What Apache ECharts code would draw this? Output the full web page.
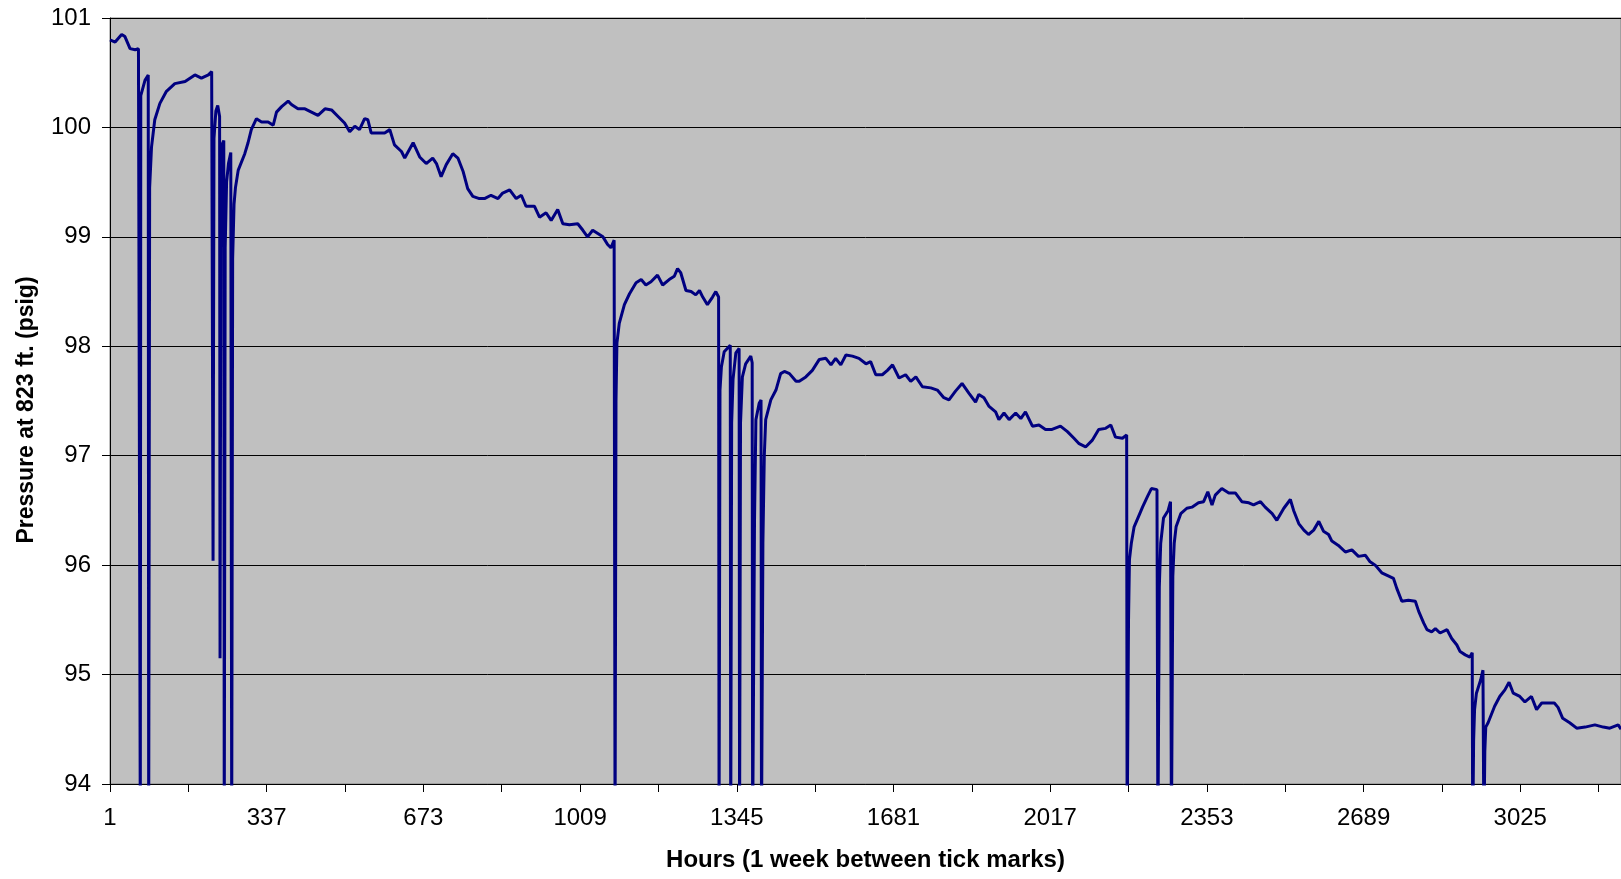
<!DOCTYPE html>
<html>
<head>
<meta charset="utf-8">
<title>Pressure at 823 ft.</title>
<script src="https://cdn.jsdelivr.net/npm/echarts@6.0.0/dist/echarts.min.js"></script>
<style>
  html, body { margin: 0; padding: 0; background: #fff; }
  #chart { width: 1621px; height: 879px; }
</style>
</head>
<body>
<div id="chart"></div>
<script>
// hours since start (x) and pressure in psig (y)
var hours = [
  1, 12, 26, 33, 44, 55, 62, 65, 66, 67, 76, 83, 84, 86, 90, 97, 108, 122, 140, 162,
  183, 197, 212, 219, 221, 222, 224, 228, 232, 236, 237, 239, 242, 245, 246, 248, 251, 255, 260, 262,
  264, 267, 270, 276, 290, 297, 304, 315, 326, 340, 351, 358, 369, 383, 390, 404, 419, 433, 447, 462,
  476, 490, 504, 515, 526, 536, 547, 554, 561, 572, 590, 601, 611, 626, 633, 651, 665, 679, 693, 701,
  711, 722, 736, 747, 758, 768, 779, 793, 804, 818, 833, 843, 858, 872, 883, 893, 911, 922, 936, 947,
  961, 972, 986, 1004, 1015, 1025, 1036, 1047, 1058, 1068, 1075, 1082, 1084, 1086, 1088, 1093, 1104, 1115, 1129, 1140,
  1150, 1161, 1175, 1186, 1200, 1211, 1218, 1225, 1236, 1247, 1257, 1265, 1272, 1282, 1293, 1300, 1306, 1307, 1309, 1312,
  1318, 1331, 1332, 1334, 1337, 1343, 1350, 1351, 1353, 1357, 1364, 1375, 1378, 1379, 1383, 1386, 1393, 1397, 1398, 1401,
  1404, 1407, 1418, 1429, 1439, 1447, 1458, 1472, 1479, 1493, 1507, 1522, 1536, 1547, 1557, 1568, 1579, 1593, 1607, 1622,
  1632, 1643, 1657, 1668, 1679, 1693, 1707, 1718, 1729, 1743, 1761, 1775, 1789, 1800, 1814, 1828, 1843, 1857, 1864, 1875,
  1886, 1900, 1907, 1918, 1929, 1943, 1954, 1964, 1979, 1993, 2007, 2021, 2039, 2054, 2068, 2079, 2093, 2107, 2121, 2136,
  2147, 2157, 2172, 2181, 2182, 2185, 2187, 2191, 2197, 2208, 2215, 2226, 2234, 2246, 2248, 2251, 2254, 2260, 2270, 2275,
  2277, 2280, 2283, 2287, 2297, 2310, 2321, 2335, 2346, 2355, 2364, 2371, 2385, 2400, 2414, 2428, 2443, 2453, 2468, 2478,
  2493, 2503, 2518, 2532, 2539, 2550, 2561, 2571, 2582, 2593, 2603, 2614, 2621, 2635, 2650, 2664, 2678, 2693, 2703, 2714,
  2728, 2743, 2753, 2760, 2771, 2785, 2800, 2807, 2818, 2825, 2835, 2843, 2853, 2868, 2878, 2889, 2896, 2907, 2917, 2922,
  2923, 2925, 2927, 2931, 2940, 2945, 2947, 2949, 2951, 2956, 2970, 2981, 2992, 3001, 3010, 3024, 3035, 3049, 3060, 3071,
  3085, 3098, 3106, 3116, 3131, 3146, 3164, 3185, 3203, 3217, 3235, 3241
];
var pressure = [
  100.80, 100.78, 100.85, 100.83, 100.72, 100.71, 100.72, 100.71, 93.5, 100.29, 100.43, 100.48, 93.5, 99.45, 99.82, 100.07, 100.22, 100.33, 100.40, 100.42,
  100.48, 100.45, 100.48, 100.51, 100.50, 96.04, 99.90, 100.15, 100.20, 100.10, 95.15, 99.70, 99.85, 99.88, 93.5, 98.90, 99.50, 99.67, 99.77, 93.5,
  98.80, 99.30, 99.45, 99.61, 99.76, 99.86, 99.98, 100.08, 100.05, 100.05, 100.02, 100.14, 100.19, 100.24, 100.21, 100.17, 100.17, 100.14, 100.11, 100.17,
  100.16, 100.10, 100.04, 99.96, 100.01, 99.98, 100.08, 100.07, 99.95, 99.95, 99.95, 99.98, 99.84, 99.78, 99.72, 99.86, 99.73, 99.67, 99.72, 99.67,
  99.55, 99.66, 99.76, 99.72, 99.60, 99.44, 99.37, 99.35, 99.35, 99.38, 99.35, 99.40, 99.43, 99.35, 99.38, 99.28, 99.28, 99.18, 99.22, 99.15,
  99.25, 99.12, 99.11, 99.12, 99.06, 99.00, 99.06, 99.03, 99.00, 98.93, 98.90, 98.97, 93.5, 97.50, 98.03, 98.21, 98.38, 98.48, 98.58, 98.61,
  98.56, 98.59, 98.65, 98.56, 98.61, 98.64, 98.71, 98.67, 98.51, 98.50, 98.47, 98.51, 98.45, 98.38, 98.45, 98.50, 98.45, 93.5, 97.60, 97.81,
  97.95, 98.01, 93.5, 97.30, 97.70, 97.94, 97.98, 93.5, 97.30, 97.72, 97.84, 97.91, 97.85, 93.5, 96.40, 97.33, 97.48, 97.51, 93.5, 96.20,
  97.00, 97.33, 97.51, 97.60, 97.75, 97.77, 97.75, 97.68, 97.68, 97.72, 97.78, 97.88, 97.89, 97.83, 97.89, 97.83, 97.92, 97.91, 97.89, 97.84,
  97.86, 97.74, 97.74, 97.78, 97.83, 97.71, 97.74, 97.68, 97.72, 97.63, 97.62, 97.60, 97.53, 97.51, 97.59, 97.66, 97.57, 97.49, 97.56, 97.53,
  97.45, 97.40, 97.33, 97.39, 97.33, 97.39, 97.34, 97.40, 97.27, 97.28, 97.24, 97.24, 97.27, 97.22, 97.16, 97.11, 97.08, 97.14, 97.24, 97.25,
  97.28, 97.17, 97.16, 97.19, 93.5, 95.50, 96.05, 96.20, 96.35, 96.46, 96.53, 96.63, 96.70, 96.69, 93.5, 95.80, 96.20, 96.43, 96.50, 96.58,
  93.5, 95.90, 96.20, 96.35, 96.47, 96.52, 96.53, 96.57, 96.58, 96.67, 96.55, 96.64, 96.70, 96.66, 96.66, 96.58, 96.57, 96.55, 96.58, 96.53,
  96.47, 96.41, 96.52, 96.60, 96.50, 96.38, 96.32, 96.28, 96.32, 96.40, 96.31, 96.28, 96.22, 96.18, 96.12, 96.14, 96.08, 96.09, 96.03, 96.00,
  95.93, 95.90, 95.88, 95.79, 95.67, 95.68, 95.67, 95.58, 95.47, 95.41, 95.39, 95.42, 95.38, 95.41, 95.33, 95.27, 95.21, 95.18, 95.16, 95.20,
  93.5, 94.40, 94.68, 94.83, 94.95, 95.04, 93.5, 94.30, 94.52, 94.56, 94.71, 94.80, 94.86, 94.93, 94.83, 94.80, 94.75, 94.80, 94.68, 94.74,
  94.74, 94.74, 94.70, 94.60, 94.56, 94.51, 94.52, 94.54, 94.52, 94.51, 94.54, 94.50
];
// one tick per week, a label every second week
var tickHours = [1, 169, 337, 505, 673, 841, 1009, 1177, 1345, 1513, 1681, 1849, 2017, 2185, 2353, 2521, 2689, 2857, 3025, 3193];
var labelHours = [1, 337, 673, 1009, 1345, 1681, 2017, 2353, 2689, 3025];

var seriesData = hours.map(function (h, i) { return [h, pressure[i]]; });

var font = 'Arial, "Liberation Sans", sans-serif';
var chart = echarts.init(document.getElementById('chart'));
var option = {
  animation: false,
  backgroundColor: '#ffffff',
  grid: {
    left: 110,
    top: 18,
    right: -2,
    bottom: 95,
    show: true,
    backgroundColor: '#c0c0c0',
    borderColor: '#808080',
    borderWidth: 1
  },
  xAxis: {
    type: 'value',
    min: 1,
    max: 3241,
    name: 'Hours (1 week between tick marks)',
    nameLocation: 'middle',
    nameGap: 64,
    nameTextStyle: { fontFamily: font, fontSize: 24, fontWeight: 'bold', color: '#000' },
    axisLine: { show: true, onZero: false, lineStyle: { color: '#000', width: 1 } },
    axisTick: { show: true, length: 8, lineStyle: { color: '#000' }, customValues: tickHours },
    axisLabel: {
      fontFamily: font, fontSize: 24, color: '#000', margin: 22,
      customValues: labelHours,
      formatter: function (v) { return String(v); }
    },
    splitLine: { show: false }
  },
  yAxis: {
    type: 'value',
    min: 94,
    max: 101,
    interval: 1,
    name: 'Pressure at 823 ft. (psig)',
    nameLocation: 'middle',
    nameGap: 72,
    // shift the title a little below the plot centre, as in the original
    nameTextStyle: { fontFamily: font, fontSize: 23, fontWeight: 'bold', color: '#000', padding: [0, 18, 0, 0] },
    axisLine: { show: true, lineStyle: { color: '#000', width: 1 } },
    axisTick: { show: true, length: 8, lineStyle: { color: '#000' } },
    axisLabel: { fontFamily: font, fontSize: 24, color: '#000', margin: 19 },
    splitLine: { show: true, lineStyle: { color: '#000', width: 1 } }
  },
  series: [{
    type: 'line',
    data: seriesData,
    showSymbol: false,
    symbol: 'none',
    clip: true,
    lineStyle: { color: '#000080', width: 3 }
  }]
};
chart.setOption(option);
</script>
</body>
</html>
